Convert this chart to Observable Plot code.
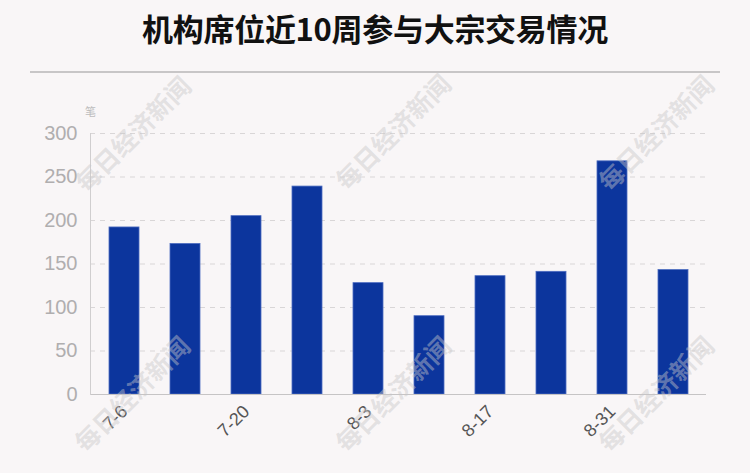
<!DOCTYPE html>
<html>
<head>
<meta charset="utf-8">
<script src="https://cdn.jsdelivr.net/npm/d3@7"></script>
<script src="https://cdn.jsdelivr.net/npm/@observablehq/plot@0.6"></script>
<style>
  html, body { margin: 0; padding: 0; background: #f9f6f7; }
  #wrap { position: relative; width: 750px; height: 473px; background: #f9f6f7; overflow: hidden; font-family: "Liberation Sans", Arial, sans-serif; }
  #title { position: absolute; left: 0; top: 9px; width: 750px; text-align: center; font-family: "Noto Sans CJK SC", sans-serif; font-weight: 700; font-size: 31px; line-height: 38px; color: #111; letter-spacing: -0.3px; }
  #rule { position: absolute; left: 30px; top: 71px; width: 690px; height: 2px; background: #c8c6c7; }
  #chart { position: absolute; left: 0; top: 73px; }
  #unit { position: absolute; left: 85px; top: 103px; font-family: "Noto Sans CJK SC", sans-serif; font-size: 11px; color: #bdbdbd; }
  .wm { position: absolute; font-family: "Noto Sans CJK SC", sans-serif; font-weight: 700; font-size: 25px; color: rgba(200,198,199,0.45); white-space: nowrap; transform: translate(-50%, -50%) rotate(-45deg); pointer-events: none; }
</style>
</head>
<body>
<div id="wrap">
  <div id="title">机构席位近10周参与大宗交易情况</div>
  <div id="rule"></div>
  <div id="unit">笔</div>
  <div id="chart"></div>
</div>
<script>
const dates = ["7-6","7-13","7-20","7-27","8-3","8-10","8-17","8-24","8-31","9-7"];
const counts = [192, 173, 205, 239, 128, 90, 136, 141, 268, 143];
const shownTicks = ["7-6","7-20","8-3","8-17","8-31"];
const yTicks = [0, 50, 100, 150, 200, 250, 300];
const unitLabel = "笔";
const watermark = "每日经济新闻";

const data = dates.map((d, i) => ({date: d, value: counts[i]}));

const chart = Plot.plot({
  width: 750,
  height: 400,
  marginTop: 60,
  marginBottom: 79,
  marginLeft: 90,
  marginRight: 44,
  style: {background: "transparent", fontFamily: "'Liberation Sans', Arial, sans-serif"},
  x: {domain: dates, paddingInner: 0.51, paddingOuter: 0.27, axis: null, label: null},
  y: {domain: [0, 300], axis: null, label: null},
  marks: [
    Plot.gridY(yTicks.filter(d => d > 0), {stroke: "#d9d6d7", strokeOpacity: 1, strokeDasharray: "5,5"}),
    Plot.barY(data, {x: "date", y: "value", fill: "#0c359d", stroke: "#4d6cc0", strokeWidth: 0.8}),
    Plot.ruleY([0], {stroke: "#c6c4c5", strokeWidth: 1.2}),
    Plot.frame({anchor: "left", stroke: "#d0cecf"}),
    Plot.axisY({ticks: yTicks, tickSize: 0, tickPadding: 13, fontSize: 20, fill: "#b0aeaf", label: null}),
    Plot.axisX({ticks: shownTicks, tickSize: 0, tickRotate: -45, tickPadding: 14, fontSize: 18, fill: "#555", label: null})
  ]
});
document.getElementById("chart").appendChild(chart);
document.getElementById("unit").textContent = unitLabel;

const wmPos = [[132,133],[392,131],[655,132],[131,393],[392,393],[655,393]];
const wrap = document.getElementById("wrap");
wmPos.forEach(([x, y]) => {
  const d = document.createElement("div");
  d.className = "wm";
  d.style.left = x + "px";
  d.style.top = y + "px";
  d.textContent = watermark;
  wrap.appendChild(d);
});
</script>
</body>
</html>
